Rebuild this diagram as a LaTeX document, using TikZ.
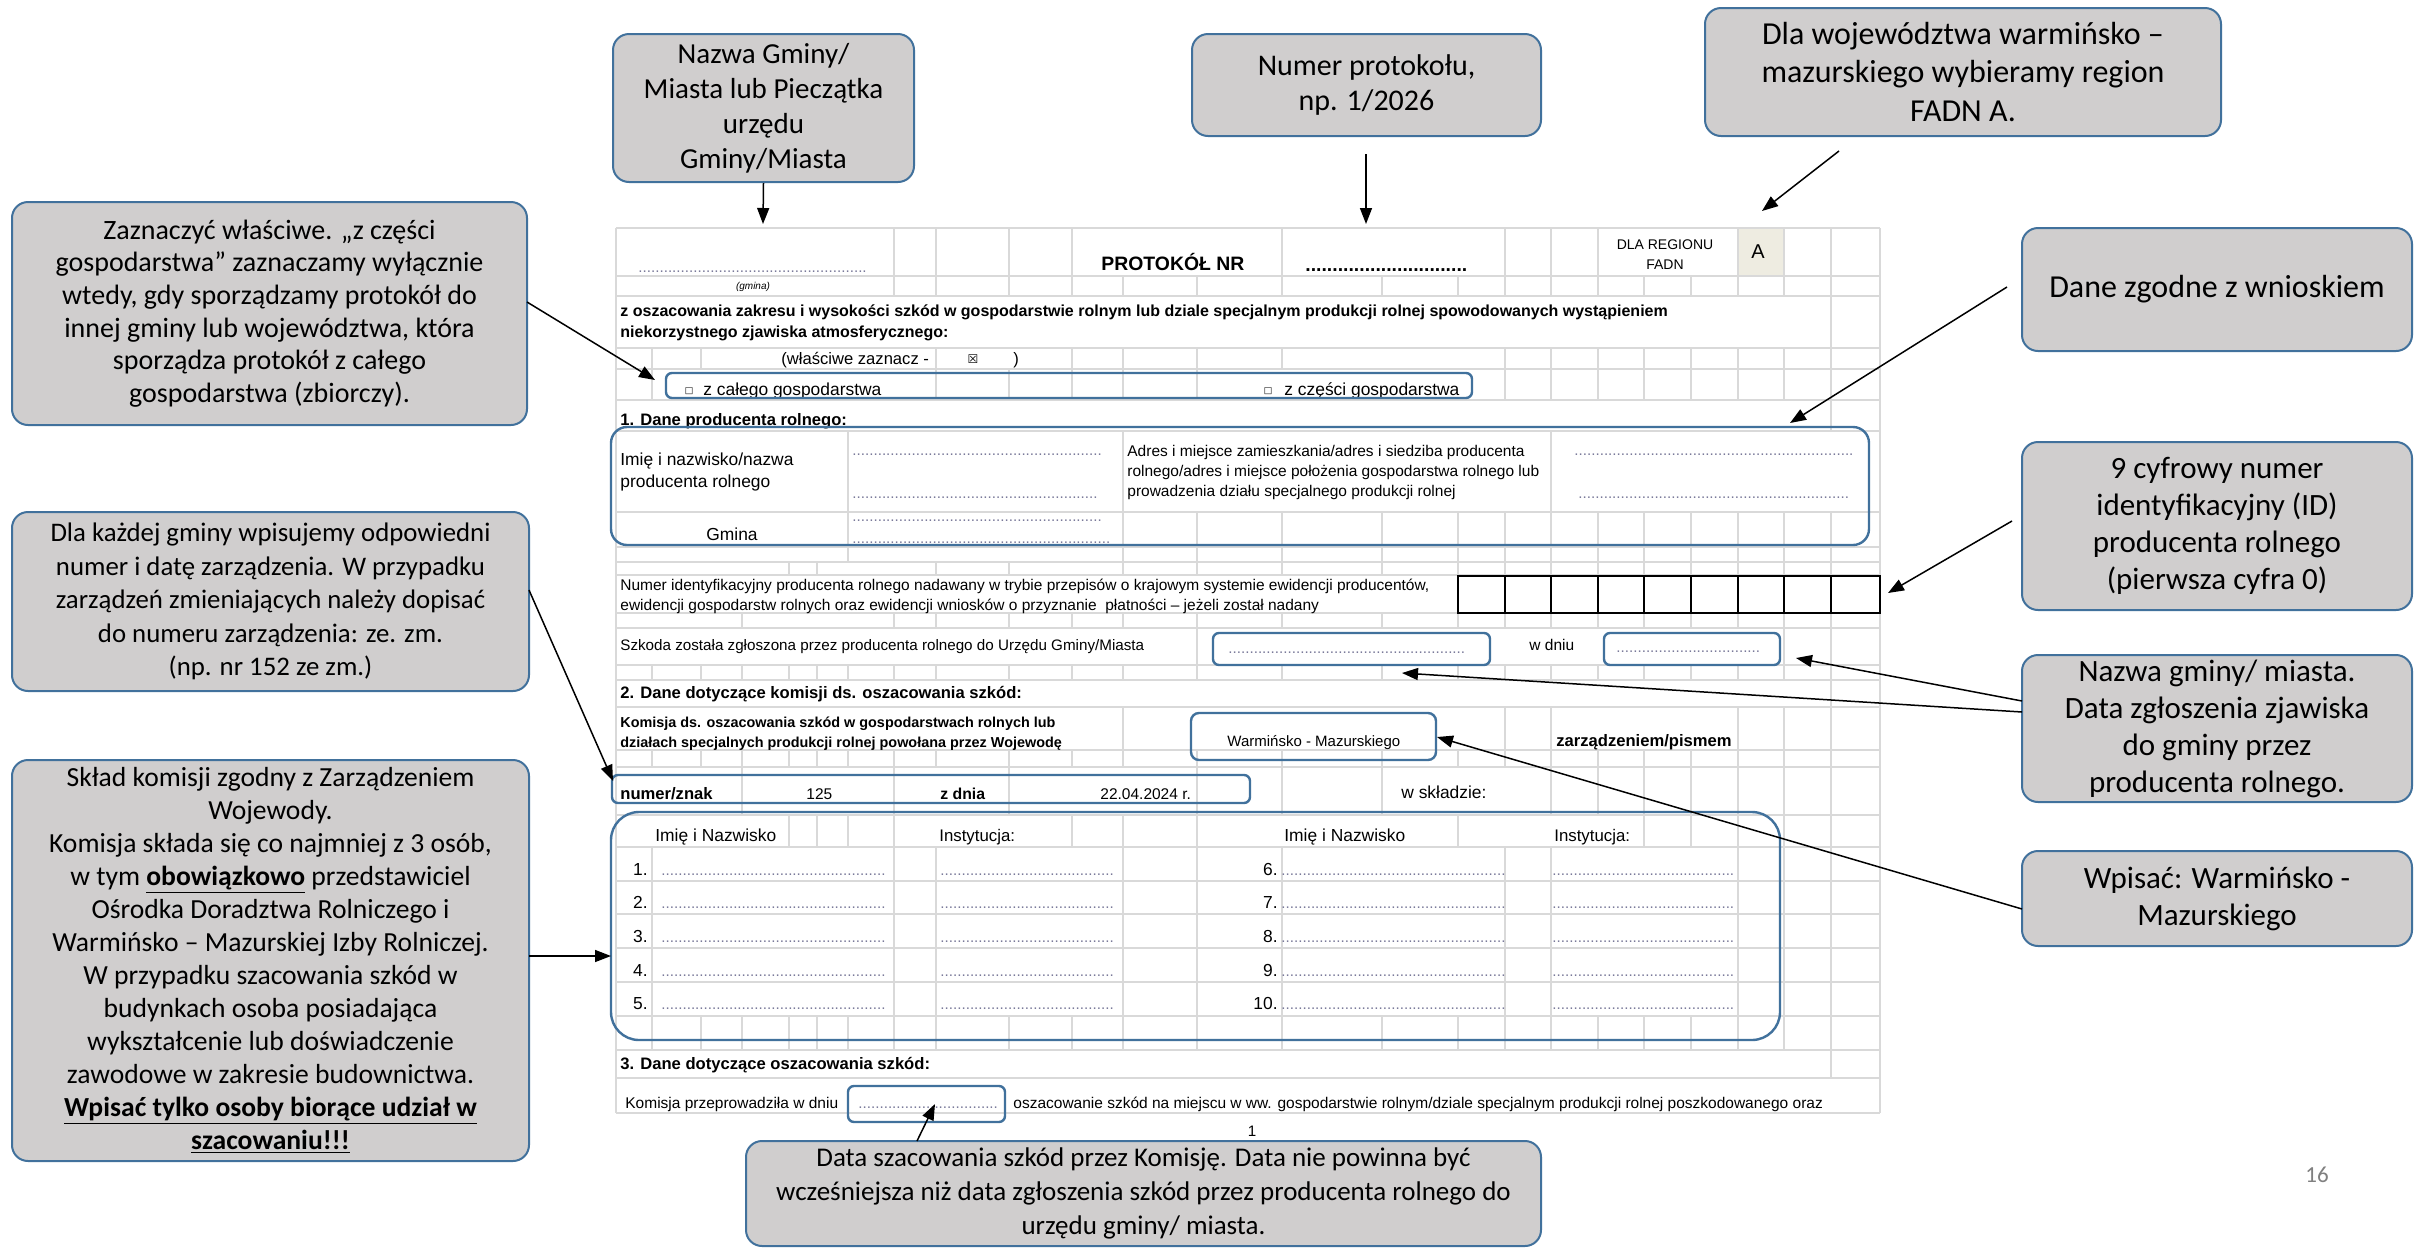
\documentclass[tikz,border=0pt]{standalone}
\usepackage{fontspec}
\setmainfont{Carlito}
\newfontfamily\ar{Liberation Sans}
\newfontfamily\dv{DejaVu Sans}
\usetikzlibrary{arrows.meta}
\definecolor{boxblue}{HTML}{41719C}
\definecolor{cgray}{HTML}{D0CECE}
\definecolor{gridc}{HTML}{D9D9D9}
\definecolor{beige}{HTML}{EEECE1}
\definecolor{dotc}{HTML}{7A7A9A}
\newcommand\dl[1]{\hbox to #1pt{\leaders\hbox to 0.278em{\hss.\hss}\hfill}}
\newcommand\vr[3]{\foreach \xx in #3 {\draw[grid] (\xx,#1) -- (\xx,#2);}}
\def\allc{616,652,701,742,789,817,848,894,936,1009,1072,1123,1197,1282,1382,1458,1505,1551,1598,1644,1691,1738,1784,1831,1880}
\begin{document}
\begin{tikzpicture}[x=0.5pt,y=-0.5pt,
  grid/.style={draw=gridc,line width=0.6pt},
  hbox/.style={draw=boxblue,line width=1.2pt,rounded corners=3pt},
  callout/.style={draw=boxblue,line width=1pt,fill=cgray,rounded corners=8pt,align=center,inner sep=2pt,text=black},
  ft/.style={anchor=base west,inner sep=0pt,font=\ar\fontsize{7.75}{9}\selectfont,text=black},
  fm/.style={ft,font=\ar\fontsize{8.7}{10}\selectfont},
  fb/.style={ft,font=\ar\bfseries\fontsize{8.3}{10}\selectfont},
  fbs/.style={ft,font=\ar\bfseries\fontsize{7.2}{9}\selectfont},
  dots/.style={anchor=base west,inner sep=0pt,font=\ar\fontsize{7.6}{9}\selectfont,text=dotc},
  arr/.style={draw=black,line width=0.75pt,-{Triangle[length=8pt,width=6pt]}},
]
\useasboundingbox (0,0) rectangle (2417,1249);
\fill[white] (0,0) rectangle (2417,1249);

% ---------- form grid ----------
\fill[beige] (1738,228) rectangle (1784,276);
\foreach \yy in {228,276,296,348,369,400,431,512,547,562,575,613,628,665,680,707,750,767,815,847,881,914,948,982,1016,1050,1078,1113}
  {\draw[grid] (616,\yy) -- (1880,\yy);}
\vr{228}{276}{{616,894,936,1009,1072,1282,1505,1551,1598,1738,1784,1831,1880}}
\vr{276}{296}{{616,894,936,1009,1072,1123,1197,1282,1382,1458,1505,1551,1598,1644,1691,1738,1784,1831,1880}}
\vr{296}{348}{{616,1831,1880}}
\vr{348}{369}{{616,652,701,936,1072,1123,1197,1282,1505,1551,1598,1644,1691,1738,1784,1831,1880}}
\vr{369}{400}{{616,652,936,1009,1072,1123,1197,1505,1551,1598,1644,1691,1738,1784,1831,1880}}
\vr{400}{431}{{616,1831,1880}}
\vr{431}{512}{{616,848,1123,1551,1880}}
\vr{512}{562}{{616,848,1123,1197,1282,1382,1458,1505,1551,1598,1644,1691,1738,1784,1831,1880}}
\vr{562}{575}{{616,789,817,936,1009,1123,1197,1282,1382,1458,1505,1551,1598,1644,1691,1738,1784,1831,1880}}
\vr{575}{613}{{616,1880}}
\vr{613}{628}{{616,742,894,936,1009,1072,1123,1197,1282,1382,1458,1505,1551,1598,1644,1691,1738,1784,1831,1880}}
\vr{628}{665}{{616,1197,1784,1831,1880}}
\vr{665}{680}{\allc}
\vr{680}{707}{{616,1831,1880}}
\vr{707}{750}{{616,1123,1505,1551,1738,1784,1831,1880}}
\vr{750}{767}{\allc}
\vr{767}{815}{{616,742,894,1009,1197,1282,1382,1551,1598,1644,1691,1738,1784,1831,1880}}
\vr{815}{847}{{616,789,817,848,894,1072,1123,1197,1458,1644,1691,1738,1784,1831,1880}}
\vr{847}{1016}{{616,652,894,936,1123,1197,1282,1505,1551,1738,1784,1831,1880}}
\vr{1016}{1050}{\allc}
\vr{1050}{1078}{{616,1831,1880}}
\vr{1078}{1113}{{616,1880}}
% ID boxes
\draw[black,line width=0.7pt] (1458,576) rectangle (1880,613);
\foreach \xx in {1505,1551,1598,1644,1691,1738,1784,1831}{\draw[black,line width=0.7pt] (\xx,576) -- (\xx,613);}

% ---------- form texts ----------
\node[dots] (d0) at (638,272) {\dl{115.5}};
\node[anchor=base,inner sep=0pt,font=\ar\itshape\fontsize{5}{6}\selectfont] (tgm) at (753,289) {(gmina)};
\node[ft,font=\ar\bfseries\fontsize{9.7}{11}\selectfont] (tprot) at (1101,270) {PROTOKÓŁ NR};
\node[anchor=base west,inner sep=0pt,font=\ar\bfseries\fontsize{9.7}{11}\selectfont] (d1) at (1305,271) {\dl{83.5}};
\node[align=center,inner sep=0pt,font=\ar\fontsize{7}{10}\selectfont] (treg) at (1665,255) {DLA REGIONU\\FADN};
\node[inner sep=0pt,font=\ar\fontsize{10}{12}\selectfont] (ta) at (1758,252) {A};
\node[ft,font=\ar\bfseries\fontsize{8}{10}\selectfont] (tz1) at (620,316) {z oszacowania zakresu i wysokości szkód w gospodarstwie rolnym lub dziale specjalnym produkcji rolnej spowodowanych wystąpieniem};
\node[ft,font=\ar\bfseries\fontsize{8}{10}\selectfont] (tz2) at (620,337) {niekorzystnego zjawiska atmosferycznego:};
\node[ft,font=\ar\fontsize{8.3}{10}\selectfont] (tw) at (781,364) {(właściwe zaznacz -};
\node[inner sep=0pt,font=\dv\fontsize{6}{7}\selectfont] (tx) at (973,359) {☒};
\node[ft,font=\ar\fontsize{8.3}{10}\selectfont] (tp) at (1013,364) {)};
\node[inner sep=0pt,font=\dv\fontsize{4.5}{5}\selectfont] (sq1) at (689,391) {□};
\node[fm] (tcal) at (703,395) {z całego gospodarstwa};
\node[inner sep=0pt,font=\dv\fontsize{4.5}{5}\selectfont] (sq2) at (1268,391) {□};
\node[fm] (tcz) at (1284,395) {z części gospodarstwa};
\node[fb] (th1) at (620,425) {1. Dane producenta rolnego:};
\node[fm] (ti1) at (620,465) {Imię i nazwisko/nazwa};
\node[fm] (ti2) at (620,487) {producenta rolnego};
\node[dots] (d2) at (852,455) {\dl{125}};
\node[dots] (d3) at (852,498) {\dl{123}};
\node[ft] (tad1) at (1127,456) {Adres i miejsce zamieszkania/adres i siedziba producenta};
\node[ft] (tad2) at (1127,476) {rolnego/adres i miejsce położenia gospodarstwa rolnego lub};
\node[ft] (tad3) at (1127,496) {prowadzenia działu specjalnego produkcji rolnej};
\node[dots] (d4) at (1574,455) {\dl{139.5}};
\node[dots] (d5) at (1578,498) {\dl{136}};
\node[fm] (tgmina) at (706,540) {Gmina};
\node[dots] (d6) at (852,521) {\dl{125}};
\node[dots] (d7) at (852,543) {\dl{129.5}};
\node[ft] (tn1) at (620,590) {Numer identyfikacyjny producenta rolnego nadawany w trybie przepisów o krajowym systemie ewidencji producentów,};
\node[ft] (tn2) at (620,610) {ewidencji gospodarstw rolnych oraz ewidencji wniosków o przyznanie \ płatności – jeżeli został nadany};
\node[ft,font=\ar\fontsize{7.6}{9}\selectfont] (tsz) at (620,650) {Szkoda została zgłoszona przez producenta rolnego do Urzędu Gminy/Miasta};
\node[dots] (d8) at (1228,653) {\dl{118.5}};
\node[ft] (twd) at (1529,650) {w dniu};
\node[dots] (d9) at (1616,652) {\dl{72}};
\node[fb] (th2) at (620,698) {2. Dane dotyczące komisji ds. oszacowania szkód:};
\node[fbs] (tk1) at (620,727) {Komisja ds. oszacowania szkód w gospodarstwach rolnych lub};
\node[fbs] (tk2) at (620,747) {działach specjalnych produkcji rolnej powołana przez Wojewodę};
\node[ft,font=\ar\fontsize{7.5}{9}\selectfont] (twm) at (1227,746) {Warmińsko - Mazurskiego};
\node[fb] (tzp) at (1556,746) {zarządzeniem/pismem};
\node[fb] (tnz) at (620,799) {numer/znak};
\node[ft] (t125) at (806,799) {125};
\node[fb,font=\ar\bfseries\fontsize{7.9}{10}\selectfont] (tzd) at (940,799) {z dnia};
\node[ft] (tdate) at (1100,799) {22.04.2024 r.};
\node[fm] (tws) at (1401,798) {w składzie:};
\node[fm] (tin1) at (655,841) {Imię i Nazwisko};
\node[fm,font=\ar\fontsize{8.4}{10}\selectfont] (tis1) at (939,841) {Instytucja:};
\node[fm] (tin2) at (1284,841) {Imię i Nazwisko};
\node[fm,font=\ar\fontsize{8.4}{10}\selectfont] (tis2) at (1554,841) {Instytucja:};
\foreach \i/\j/\yy in {1/6/875,2/7/908,3/8/942,4/9/976,5/10/1009}{
  \node[fm,anchor=base east] (nl\i) at (648,\yy) {\i.};
  \node[fm,anchor=base east] (nr\j) at (1278,\yy) {\j.};
  \node[dots] (da\i) at (661,\yy) {\dl{112}};
  \node[dots] (db\i) at (940,\yy) {\dl{88}};
  \node[dots] (dc\i) at (1281,\yy) {\dl{112}};
  \node[dots] (dd\i) at (1552,\yy) {\dl{91.5}};
}
\node[fb] (th3) at (620,1069) {3. Dane dotyczące oszacowania szkód:};
\node[ft] (tkp) at (625,1108) {Komisja przeprowadziła w dniu};
\node[dots] (d10) at (858,1108) {\dl{70.5}};
\node[ft] (tos) at (1013,1108) {oszacowanie szkód na miejscu w ww. gospodarstwie rolnym/dziale specjalnym produkcji rolnej poszkodowanego oraz};
\node[inner sep=0pt,font=\ar\fontsize{7.6}{9}\selectfont] (tpage) at (1252,1131) {1};

% ---------- highlight boxes ----------
\draw[hbox] (666,373) rectangle (1472,398);
\draw[hbox,rounded corners=8pt] (611,427) rectangle (1869,545);
\draw[hbox] (1213,633) rectangle (1490,665);
\draw[hbox] (1604,633) rectangle (1780,665);
\draw[hbox,rounded corners=4pt] (1191,713) rectangle (1436,760);
\draw[hbox] (612,775) rectangle (1250,803);
\draw[hbox,rounded corners=14pt] (611,812) rectangle (1780,1040);
\draw[hbox] (848,1086) rectangle (1005,1122);

% ---------- callouts ----------
\node[callout,minimum width=150.5pt,minimum height=74pt,font=\fontsize{14.5}{17.5}\selectfont] (c1) at (763.5,108) {Nazwa Gminy/\\Miasta lub Pieczątka\\urzędu\\Gminy/Miasta};
\node[callout,minimum width=174.5pt,minimum height=51pt,font=\fontsize{15}{17.7}\selectfont] (c2) at (1366.5,85) {Numer protokołu,\\np. 1/2026};
\node[callout,minimum width=258pt,minimum height=64pt,font=\fontsize{16}{19.3}\selectfont] (c3) at (1963,72) {Dla województwa warmińsko –\\mazurskiego wybieramy region\\FADN A.};
\node[callout,minimum width=257.5pt,minimum height=111.5pt,font=\fontsize{14}{16.3}\selectfont] (c4) at (269.5,313.5) {Zaznaczyć właściwe. „z części\\gospodarstwa” zaznaczamy wyłącznie\\wtedy, gdy sporządzamy protokół do\\innej gminy lub województwa, która\\sporządza protokół z całego\\gospodarstwa (zbiorczy).};
\node[callout,minimum width=195pt,minimum height=61.5pt,font=\fontsize{16}{19}\selectfont] (c5) at (2217,289.5) {Dane zgodne z wnioskiem};
\node[callout,minimum width=195pt,minimum height=84pt,font=\fontsize{15.5}{18.6}\selectfont] (c6) at (2217,526) {9 cyfrowy numer\\identyfikacyjny (ID)\\producenta rolnego\\(pierwsza cyfra 0)};
\node[callout,minimum width=258.5pt,minimum height=89.5pt,font=\fontsize{13.4}{16.7}\selectfont] (c7) at (270.5,601.5) {Dla każdej gminy wpisujemy odpowiedni\\numer i datę zarządzenia. W przypadku\\zarządzeń zmieniających należy dopisać\\do numeru zarządzenia: ze. zm.\\(np. nr 152 ze zm.)};
\node[callout,minimum width=195pt,minimum height=73.5pt,font=\fontsize{15.5}{18.5}\selectfont] (c8) at (2217,728.5) {Nazwa gminy/ miasta.\\Data zgłoszenia zjawiska\\do gminy przez\\producenta rolnego.};
\node[callout,minimum width=258.5pt,minimum height=200.5pt,font=\fontsize{13.8}{16.5}\selectfont] (c9) at (270.5,960.5) {Skład komisji zgodny z Zarządzeniem\\Wojewody.\\Komisja składa się co najmniej z 3 osób,\\w tym \underline{\textbf{obowiązkowo}} przedstawiciel\\Ośrodka Doradztwa Rolniczego i\\Warmińsko – Mazurskiej Izby Rolniczej.\\W przypadku szacowania szkód w\\budynkach osoba posiadająca\\wykształcenie lub doświadczenie\\zawodowe w zakresie budownictwa.\\\underline{\textbf{Wpisać tylko osoby biorące udział w}}\\\underline{\textbf{szacowaniu!!!}}};
\node[callout,minimum width=195pt,minimum height=47.5pt,font=\fontsize{15.5}{18.5}\selectfont] (c10) at (2217,898.5) {Wpisać: Warmińsko -\\Mazurskiego};
\node[callout,minimum width=397.5pt,minimum height=52.5pt,font=\fontsize{13.5}{17}\selectfont] (c11) at (1143.5,1193.5) {Data szacowania szkód przez Komisję. Data nie powinna być\\wcześniejsza niż data zgłoszenia szkód przez producenta rolnego do\\urzędu gminy/ miasta.};
\node[inner sep=0pt,text=gray,font=\fontsize{11.5}{13}\selectfont] (pg) at (2317,1175) {16};

% ---------- arrow ends ----------
\coordinate (e1) at (763,224);
\coordinate (s2) at (1366,154); \coordinate (e2) at (1366,224);
\coordinate (s3) at (1839,151); \coordinate (e3) at (1762,211);
\coordinate (s4) at (527,302);  \coordinate (e4) at (655,380);
\coordinate (s5) at (2007,287); \coordinate (e5) at (1790,423);
\coordinate (s6) at (2012,521); \coordinate (e6) at (1888,593);
\coordinate (s7) at (529,590);  \coordinate (e7) at (613,781);
\coordinate (s8a) at (2022,701); \coordinate (e8a) at (1796,658);
\coordinate (s8b) at (2022,712); \coordinate (e8b) at (1402,673);
\coordinate (s9) at (529,956);  \coordinate (e9) at (611,956);
\coordinate (s10) at (2022,909); \coordinate (e10) at (1437,737);
\coordinate (s11) at (917,1141); \coordinate (e11) at (935,1104);

\draw[arr] (c1.south) -- (e1);
\draw[arr] (s2) -- (e2);
\draw[arr] (s3) -- (e3);
\draw[arr] (s4) -- (e4);
\draw[arr] (s5) -- (e5);
\draw[arr] (s6) -- (e6);
\draw[arr] (s7) -- (e7);
\draw[arr] (s8a) -- (e8a);
\draw[arr] (s8b) -- (e8b);
\draw[arr] (s9) -- (e9);
\draw[arr] (s10) -- (e10);
\draw[arr] (s11) -- (e11);
\end{tikzpicture}
\end{document}
